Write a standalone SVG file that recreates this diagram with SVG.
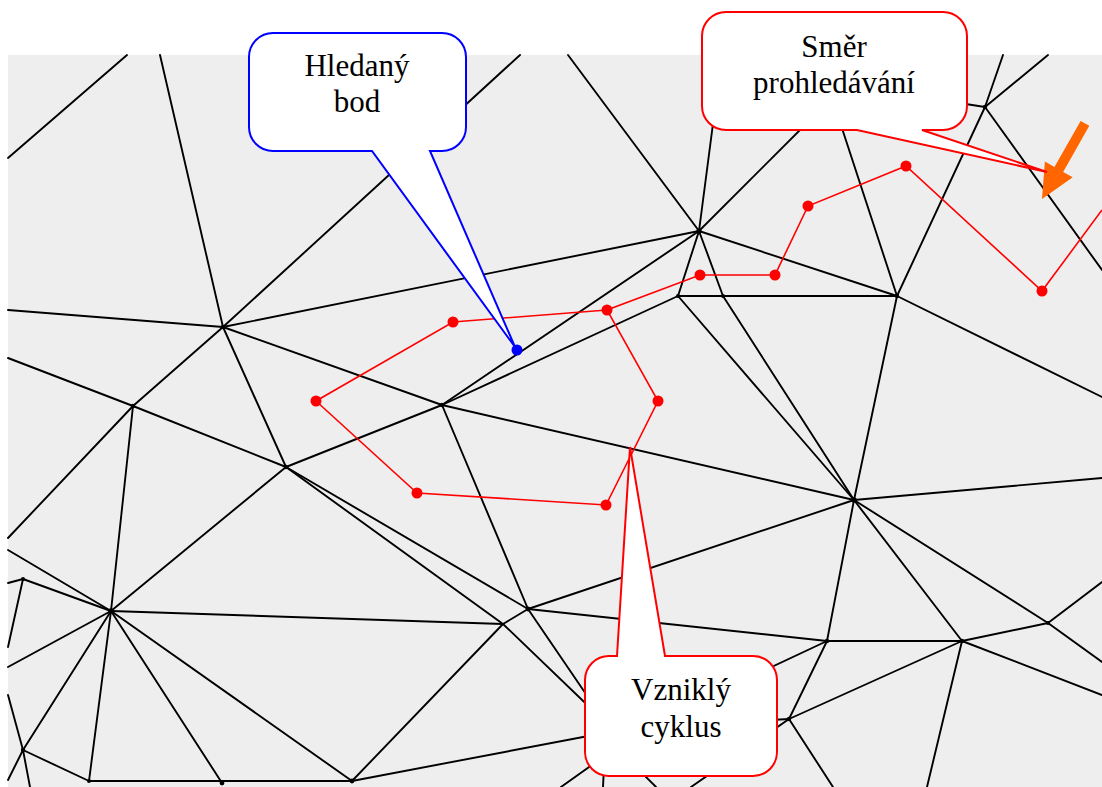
<svg xmlns="http://www.w3.org/2000/svg" width="1102" height="787" viewBox="0 0 1102 787">
<style>
.m{stroke:#000;stroke-width:1.9;fill:none;stroke-linecap:round}
.v{fill:#000}
.rp{stroke:#ff0000;stroke-width:1.6;fill:none}
.rd{fill:#ff0000}
.cb{fill:#fff;stroke:#0000ff;stroke-width:2}
.cr{fill:#fff;stroke:#ff0000;stroke-width:2}
.t{font-family:"Liberation Serif","Times New Roman",serif;font-size:31px;fill:#000;text-anchor:middle}
</style>
<rect x="0" y="0" width="1102" height="787" fill="#fff"/>
<rect id="background" x="8" y="55" width="1094" height="732" fill="#eeeeee"/>
<g id="connectors">
<g id="mesh" class="m">
<line x1="8" y1="158" x2="127" y2="55"/>
<line x1="160" y1="55" x2="223" y2="327"/>
<line x1="223" y1="327" x2="520" y2="55"/>
<line x1="8" y1="310" x2="223" y2="327"/>
<line x1="223" y1="327" x2="699" y2="231"/>
<line x1="223" y1="327" x2="442" y2="405"/>
<line x1="223" y1="327" x2="133" y2="406"/>
<line x1="223" y1="327" x2="286" y2="467"/>
<line x1="8" y1="358" x2="133" y2="406"/>
<line x1="133" y1="406" x2="286" y2="467"/>
<line x1="133" y1="406" x2="8" y2="538"/>
<line x1="133" y1="406" x2="111" y2="611"/>
<line x1="286" y1="467" x2="111" y2="611"/>
<line x1="286" y1="467" x2="442" y2="405"/>
<line x1="286" y1="467" x2="528" y2="609"/>
<line x1="286" y1="467" x2="503" y2="624"/>
<line x1="442" y1="405" x2="699" y2="231"/>
<line x1="442" y1="405" x2="678" y2="296"/>
<line x1="442" y1="405" x2="854" y2="500"/>
<line x1="442" y1="405" x2="528" y2="609"/>
<line x1="568" y1="55" x2="699" y2="231"/>
<line x1="699" y1="231" x2="720" y2="70"/>
<line x1="699" y1="231" x2="815" y2="115"/>
<line x1="699" y1="231" x2="678" y2="296"/>
<line x1="699" y1="231" x2="723" y2="296"/>
<line x1="699" y1="231" x2="897" y2="296"/>
<line x1="678" y1="296" x2="897" y2="296"/>
<line x1="678" y1="296" x2="854" y2="500"/>
<line x1="723" y1="296" x2="854" y2="500"/>
<line x1="897" y1="296" x2="854" y2="500"/>
<line x1="836" y1="110" x2="897" y2="296"/>
<line x1="897" y1="296" x2="985" y2="107"/>
<line x1="985" y1="107" x2="1003" y2="55"/>
<line x1="985" y1="107" x2="1048" y2="55"/>
<line x1="985" y1="107" x2="1102" y2="270"/>
<line x1="985" y1="107" x2="940" y2="100"/>
<line x1="897" y1="296" x2="1102" y2="397"/>
<line x1="854" y1="500" x2="1102" y2="478"/>
<line x1="854" y1="500" x2="528" y2="609"/>
<line x1="854" y1="500" x2="827" y2="641"/>
<line x1="854" y1="500" x2="962" y2="641"/>
<line x1="854" y1="500" x2="1048" y2="623"/>
<line x1="1048" y1="623" x2="1102" y2="582"/>
<line x1="1048" y1="623" x2="1102" y2="662"/>
<line x1="962" y1="641" x2="1048" y2="623"/>
<line x1="827" y1="641" x2="962" y2="641"/>
<line x1="528" y1="609" x2="827" y2="641"/>
<line x1="827" y1="641" x2="620" y2="738"/>
<line x1="827" y1="641" x2="789" y2="719"/>
<line x1="789" y1="719" x2="962" y2="641"/>
<line x1="789" y1="719" x2="620" y2="728"/>
<line x1="789" y1="719" x2="833" y2="787"/>
<line x1="789" y1="719" x2="691" y2="787"/>
<line x1="962" y1="641" x2="927" y2="787"/>
<line x1="962" y1="641" x2="1102" y2="695"/>
<line x1="528" y1="609" x2="605" y2="722"/>
<line x1="503" y1="624" x2="605" y2="722"/>
<line x1="503" y1="624" x2="528" y2="609"/>
<line x1="352" y1="781" x2="503" y2="624"/>
<line x1="111" y1="611" x2="503" y2="624"/>
<line x1="352" y1="781" x2="620" y2="730"/>
<line x1="561" y1="787" x2="620" y2="745"/>
<line x1="603" y1="787" x2="606" y2="725"/>
<line x1="656" y1="787" x2="614" y2="745"/>
<line x1="111" y1="611" x2="23" y2="579"/>
<line x1="111" y1="611" x2="8" y2="550"/>
<line x1="111" y1="611" x2="8" y2="667"/>
<line x1="111" y1="611" x2="23" y2="750"/>
<line x1="111" y1="611" x2="89" y2="781"/>
<line x1="111" y1="611" x2="222" y2="783"/>
<line x1="111" y1="611" x2="352" y2="781"/>
<line x1="23" y1="579" x2="8" y2="583"/>
<line x1="23" y1="579" x2="8" y2="647"/>
<line x1="23" y1="750" x2="8" y2="695"/>
<line x1="23" y1="750" x2="8" y2="780"/>
<line x1="23" y1="750" x2="30" y2="787"/>
<line x1="23" y1="750" x2="89" y2="781"/>
<line x1="89" y1="781" x2="352" y2="781"/>
</g>
<g id="vertices" class="v">
<circle cx="223" cy="327" r="2.2"/><circle cx="133" cy="406" r="2.2"/><circle cx="286" cy="467" r="2.2"/>
<circle cx="442" cy="405" r="2.2"/><circle cx="699" cy="231" r="2.6"/><circle cx="678" cy="296" r="2"/>
<circle cx="723" cy="296" r="2"/><circle cx="897" cy="296" r="2.2"/><circle cx="854" cy="500" r="2.8"/>
<circle cx="111" cy="611" r="2.8"/><circle cx="528" cy="609" r="2.4"/><circle cx="827" cy="641" r="2.2"/>
<circle cx="962" cy="641" r="2.2"/><circle cx="789" cy="719" r="2.2"/><circle cx="985" cy="107" r="2.2"/>
<circle cx="23" cy="750" r="2.2"/><circle cx="23" cy="579" r="2"/><circle cx="89" cy="781" r="2"/>
<circle cx="222" cy="783" r="2.4"/><circle cx="352" cy="781" r="2.4"/><circle cx="1048" cy="623" r="2"/>
</g>
<g id="search-path">
<polyline class="rp" points="1102,210 1042,291 906,166 808,206 775,275 700,275 607,310 658,401 606,505 417,493 316,401 453,322 607,310"/>
<g class="rd">
<circle cx="1042" cy="291" r="5.5"/><circle cx="906" cy="166" r="5.5"/><circle cx="808" cy="206" r="5.5"/>
<circle cx="775" cy="275" r="5.5"/><circle cx="700" cy="275" r="5.5"/><circle cx="607" cy="310" r="5.5"/>
<circle cx="658" cy="401" r="5.5"/><circle cx="606" cy="505" r="5.5"/><circle cx="417" cy="493" r="5.5"/>
<circle cx="316" cy="401" r="5.5"/><circle cx="453" cy="322" r="5.5"/>
</g>
</g>
</g>
<g id="target-point"><circle cx="517" cy="350" r="5.5" fill="#0000ff"/></g>
<g id="direction-arrow">
<polygon fill="#ff6600" points="0,0 34,-16 34,-5 87,-5 87,5 34,5 34,16" transform="translate(1042,199) rotate(-60.4)"/>
</g>
<g id="callout-hledany">
<path class="cb" d="M273,33 H442 A24,24 0 0 1 466,57 V127 A24,24 0 0 1 442,151 H430 L515,347 L372,151 H273 A24,24 0 0 1 249,127 V57 A24,24 0 0 1 273,33 Z"/>
<text class="t" x="357" y="76">Hledaný</text>
<text class="t" x="357" y="112">bod</text>
</g>
<g id="callout-smer">
<path class="cr" d="M726,12 H943 A24,24 0 0 1 967,36 V106 A24,24 0 0 1 943,130 H922 L1047,172 L857,130 H726 A24,24 0 0 1 702,106 V36 A24,24 0 0 1 726,12 Z"/>
<text class="t" x="834" y="57">Směr</text>
<text class="t" x="834" y="93">prohledávání</text>
</g>
<g id="callout-cyklus">
<path class="cr" d="M609,656 H617 L630,447 L665,656 H753 A24,24 0 0 1 777,680 V752 A24,24 0 0 1 753,776 H609 A24,24 0 0 1 585,752 V680 A24,24 0 0 1 609,656 Z"/>
<text class="t" x="681" y="700">Vzniklý</text>
<text class="t" x="681" y="737">cyklus</text>
</g>
</svg>
